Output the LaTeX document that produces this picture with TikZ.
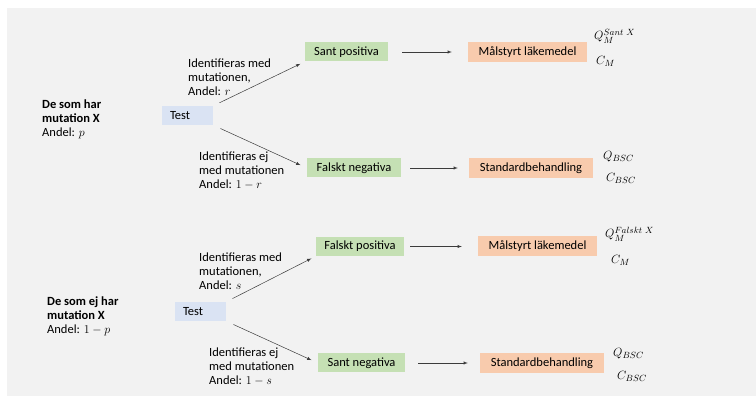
\documentclass[tikz,border=0pt]{standalone}
\usepackage{amsmath}
\usepackage{fontspec}
\setmainfont{Carlito}
\usepackage{tikz}
\usetikzlibrary{shapes,arrows,positioning,calc,fit}
\definecolor{bgray}{RGB}{242,242,242}
\definecolor{testblue}{RGB}{218,227,243}
\definecolor{outgreen}{RGB}{197,224,180}
\definecolor{treatorange}{RGB}{248,203,173}
\definecolor{linegray}{RGB}{60,60,60}

\begin{document}
\begin{tikzpicture}[x=1pt,y=-1pt,font=\fontsize{12.5}{14}\selectfont,
  testbox/.style={fill=testblue, minimum height=19pt, text width=35pt, inner xsep=8pt, align=left},
  outbox/.style={fill=outgreen, minimum height=19pt},
  treatbox/.style={fill=treatorange, minimum height=20pt},
  lbl/.style={align=left, anchor=west, inner sep=0pt},
  arr/.style={-latex, draw=linegray, line width=0.5pt}]
  % background
  \useasboundingbox (0,0) rectangle (756,398);
  \fill[bgray] (7,8) rectangle (756,396);

  % Group with mutation X
  \node[lbl] (harX) at (42,119) {\textbf{De som har}\\\textbf{mutation X}\\Andel: $p$};
  \node[testbox] (test1) at (187.5,115.5) {Test};
  \node[outbox, minimum width=83pt] (tp) at (346.5,52) {Sant positiva};
  \node[outbox, minimum width=94pt] (fn) at (354,168) {Falskt negativa};
  \node[treatbox, minimum width=119pt] (m1) at (527.5,52) {Målstyrt läkemedel};
  \node[treatbox, minimum width=124pt] (s1) at (531,168) {Standardbehandling};
  \node[lbl] (qm1) at (594,36) {$Q_M^{Sant\ X}$};
  \node[lbl] (cm1) at (596,61) {$C_M$};
  \node[lbl] (qb1) at (603,157) {$Q_{BSC}$};
  \node[lbl] (cb1) at (606,178) {$C_{BSC}$};
  \node[lbl] (lab1) at (188,77) {Identifieras med\\mutationen,\\Andel: $r$};
  \node[lbl] (lab2) at (199,171) {Identifieras ej\\med mutationen\\Andel: $1-r$};

  \draw[arr, shorten <=7pt, shorten >=5pt] (test1.north east) -- (tp.south west);
  \draw[arr, shorten <=8pt, shorten >=7pt] (test1.south east) -- (fn.west);
  \draw[arr, shorten <=14pt, shorten >=16pt] (tp.east) -- (m1.west);
  \draw[arr, shorten <=9pt, shorten >=11pt] (fn.east) -- (s1.west);

  % Group without mutation X
  \node[lbl] (ejX) at (47,316) {\textbf{De som ej har}\\\textbf{mutation X}\\Andel: $1-p$};
  \node[testbox] (test2) at (200.5,311.5) {Test};
  \node[outbox, minimum width=88pt] (fp) at (360,246.5) {Falskt positiva};
  \node[outbox, minimum width=87pt] (tn) at (361.5,363) {Sant negativa};
  \node[treatbox, minimum width=119pt] (m2) at (537.5,246.5) {Målstyrt läkemedel};
  \node[treatbox, minimum width=124pt] (s2) at (542,363) {Standardbehandling};
  \node[lbl] (qm2) at (605,234) {$Q_M^{Falskt\ X}$};
  \node[lbl] (cm2) at (611,260) {$C_M$};
  \node[lbl] (qb2) at (613,354) {$Q_{BSC}$};
  \node[lbl] (cb2) at (617,376) {$C_{BSC}$};
  \node[lbl] (lab3) at (199,271) {Identifieras med\\mutationen,\\Andel: $s$};
  \node[lbl] (lab4) at (209,367) {Identifieras ej\\med mutationen\\Andel: $1-s$};

  \draw[arr, shorten <=7pt, shorten >=5pt] (test2.north east) -- (fp.south west);
  \draw[arr, shorten <=8pt, shorten >=7pt] (test2.south east) -- (tn.west);
  \draw[arr, shorten <=6pt, shorten >=16pt] (fp.east) -- (m2.west);
  \draw[arr, shorten <=13pt, shorten >=12pt] (tn.east) -- (s2.west);
\end{tikzpicture}
\end{document}
